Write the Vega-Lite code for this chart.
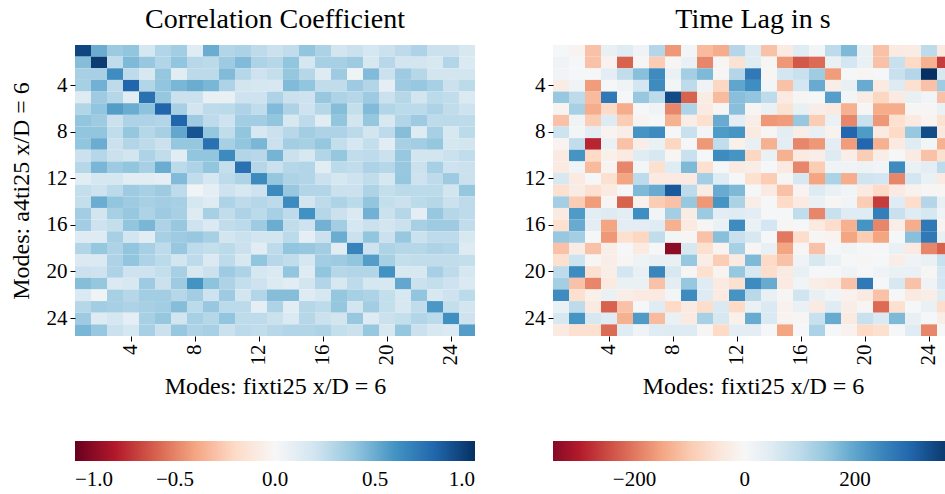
{
"$schema":"https://vega.github.io/schema/vega-lite/v6.json",
"background":"white",
"padding":{"left":9,"top":6,"right":0,"bottom":0},
"bounds":"flush",
"config":{
"font":"Liberation Serif",
"view":{"stroke":null},
"concat":{"spacing":78},
"axis":{"domain":false,"grid":false,"tickColor":"#000","tickSize":5,"tickWidth":1,"labelFont":"Liberation Serif","labelFontSize":21,"labelColor":"#000","labelPadding":3,"titleFont":"Liberation Serif","titleFontSize":24,"titleFontWeight":"normal","titleColor":"#000"},
"title":{"font":"Liberation Serif","fontSize":28,"fontWeight":"normal","color":"#000","offset":11},
"legend":{"labelFont":"Liberation Serif","labelFontSize":21,"labelColor":"#000"}
},
"datasets":{
"corr":[
{"r":1,"c":1,"v":0.92},{"r":1,"c":2,"v":0.5},{"r":1,"c":3,"v":0.37},{"r":1,"c":4,"v":0.4},{"r":1,"c":5,"v":0.18},{"r":1,"c":6,"v":0.3},{"r":1,"c":7,"v":0.35},{"r":1,"c":8,"v":0.12},{"r":1,"c":9,"v":0.5},{"r":1,"c":10,"v":0.3},{"r":1,"c":11,"v":0.32},{"r":1,"c":12,"v":0.26},{"r":1,"c":13,"v":0.22},{"r":1,"c":14,"v":0.25},{"r":1,"c":15,"v":0.4},{"r":1,"c":16,"v":0.32},{"r":1,"c":17,"v":0.19},{"r":1,"c":18,"v":0.22},{"r":1,"c":19,"v":0.18},{"r":1,"c":20,"v":0.22},{"r":1,"c":21,"v":0.26},{"r":1,"c":22,"v":0.31},{"r":1,"c":23,"v":0.22},{"r":1,"c":24,"v":0.22},{"r":1,"c":25,"v":0.17},
{"r":2,"c":1,"v":0.43},{"r":2,"c":2,"v":0.96},{"r":2,"c":3,"v":0.25},{"r":2,"c":4,"v":0.45},{"r":2,"c":5,"v":0.38},{"r":2,"c":6,"v":0.3},{"r":2,"c":7,"v":0.4},{"r":2,"c":8,"v":0.28},{"r":2,"c":9,"v":0.27},{"r":2,"c":10,"v":0.36},{"r":2,"c":11,"v":0.44},{"r":2,"c":12,"v":0.31},{"r":2,"c":13,"v":0.29},{"r":2,"c":14,"v":0.4},{"r":2,"c":15,"v":0.18},{"r":2,"c":16,"v":0.33},{"r":2,"c":17,"v":0.33},{"r":2,"c":18,"v":0.36},{"r":2,"c":19,"v":0.17},{"r":2,"c":20,"v":0.28},{"r":2,"c":21,"v":0.19},{"r":2,"c":22,"v":0.19},{"r":2,"c":23,"v":0.17},{"r":2,"c":24,"v":0.3},{"r":2,"c":25,"v":0.15},
{"r":3,"c":1,"v":0.33},{"r":3,"c":2,"v":0.33},{"r":3,"c":3,"v":0.63},{"r":3,"c":4,"v":0.26},{"r":3,"c":5,"v":0.17},{"r":3,"c":6,"v":0.39},{"r":3,"c":7,"v":0.11},{"r":3,"c":8,"v":0.27},{"r":3,"c":9,"v":0.27},{"r":3,"c":10,"v":0.44},{"r":3,"c":11,"v":0.29},{"r":3,"c":12,"v":0.21},{"r":3,"c":13,"v":0.24},{"r":3,"c":14,"v":0.39},{"r":3,"c":15,"v":0.29},{"r":3,"c":16,"v":0.13},{"r":3,"c":17,"v":0.36},{"r":3,"c":18,"v":0.05},{"r":3,"c":19,"v":0.44},{"r":3,"c":20,"v":0.22},{"r":3,"c":21,"v":0.36},{"r":3,"c":22,"v":0.29},{"r":3,"c":23,"v":0.19},{"r":3,"c":24,"v":0.19},{"r":3,"c":25,"v":0.19},
{"r":4,"c":1,"v":0.33},{"r":4,"c":2,"v":0.48},{"r":4,"c":3,"v":0.26},{"r":4,"c":4,"v":0.8},{"r":4,"c":5,"v":0.3},{"r":4,"c":6,"v":0.4},{"r":4,"c":7,"v":0.46},{"r":4,"c":8,"v":0.5},{"r":4,"c":9,"v":0.46},{"r":4,"c":10,"v":0.31},{"r":4,"c":11,"v":0.19},{"r":4,"c":12,"v":0.18},{"r":4,"c":13,"v":0.17},{"r":4,"c":14,"v":0.44},{"r":4,"c":15,"v":0.4},{"r":4,"c":16,"v":0.25},{"r":4,"c":17,"v":0.25},{"r":4,"c":18,"v":0.36},{"r":4,"c":19,"v":0.3},{"r":4,"c":20,"v":0.1},{"r":4,"c":21,"v":0.36},{"r":4,"c":22,"v":0.38},{"r":4,"c":23,"v":0.33},{"r":4,"c":24,"v":0.22},{"r":4,"c":25,"v":0.27},
{"r":5,"c":1,"v":0.13},{"r":5,"c":2,"v":0.36},{"r":5,"c":3,"v":0.29},{"r":5,"c":4,"v":0.11},{"r":5,"c":5,"v":0.75},{"r":5,"c":6,"v":0.39},{"r":5,"c":7,"v":0.22},{"r":5,"c":8,"v":0.22},{"r":5,"c":9,"v":0.08},{"r":5,"c":10,"v":0.08},{"r":5,"c":11,"v":0.21},{"r":5,"c":12,"v":0.21},{"r":5,"c":13,"v":0.31},{"r":5,"c":14,"v":0.22},{"r":5,"c":15,"v":0.21},{"r":5,"c":16,"v":0.38},{"r":5,"c":17,"v":0.31},{"r":5,"c":18,"v":0.29},{"r":5,"c":19,"v":0.36},{"r":5,"c":20,"v":0.22},{"r":5,"c":21,"v":0.29},{"r":5,"c":22,"v":0.19},{"r":5,"c":23,"v":0.27},{"r":5,"c":24,"v":0.25},{"r":5,"c":25,"v":0.15},
{"r":6,"c":1,"v":0.3},{"r":6,"c":2,"v":0.4},{"r":6,"c":3,"v":0.56},{"r":6,"c":4,"v":0.5},{"r":6,"c":5,"v":0.41},{"r":6,"c":6,"v":0.8},{"r":6,"c":7,"v":0.33},{"r":6,"c":8,"v":0.19},{"r":6,"c":9,"v":0.26},{"r":6,"c":10,"v":0.27},{"r":6,"c":11,"v":0.31},{"r":6,"c":12,"v":0.25},{"r":6,"c":13,"v":0.44},{"r":6,"c":14,"v":0.31},{"r":6,"c":15,"v":0.21},{"r":6,"c":16,"v":0.29},{"r":6,"c":17,"v":0.43},{"r":6,"c":18,"v":0.24},{"r":6,"c":19,"v":0.44},{"r":6,"c":20,"v":0.3},{"r":6,"c":21,"v":0.27},{"r":6,"c":22,"v":0.27},{"r":6,"c":23,"v":0.31},{"r":6,"c":24,"v":0.25},{"r":6,"c":25,"v":0.21},
{"r":7,"c":1,"v":0.4},{"r":7,"c":2,"v":0.36},{"r":7,"c":3,"v":0.22},{"r":7,"c":4,"v":0.31},{"r":7,"c":5,"v":0.31},{"r":7,"c":6,"v":0.3},{"r":7,"c":7,"v":0.8},{"r":7,"c":8,"v":0.36},{"r":7,"c":9,"v":0.26},{"r":7,"c":10,"v":0.21},{"r":7,"c":11,"v":0.35},{"r":7,"c":12,"v":0.35},{"r":7,"c":13,"v":0.4},{"r":7,"c":14,"v":0.17},{"r":7,"c":15,"v":0.26},{"r":7,"c":16,"v":0.11},{"r":7,"c":17,"v":0.4},{"r":7,"c":18,"v":0.19},{"r":7,"c":19,"v":0.39},{"r":7,"c":20,"v":0.17},{"r":7,"c":21,"v":0.3},{"r":7,"c":22,"v":0.36},{"r":7,"c":23,"v":0.26},{"r":7,"c":24,"v":0.27},{"r":7,"c":25,"v":0.26},
{"r":8,"c":1,"v":0.4},{"r":8,"c":2,"v":0.4},{"r":8,"c":3,"v":0.25},{"r":8,"c":4,"v":0.39},{"r":8,"c":5,"v":0.29},{"r":8,"c":6,"v":0.33},{"r":8,"c":7,"v":0.52},{"r":8,"c":8,"v":0.87},{"r":8,"c":9,"v":0.39},{"r":8,"c":10,"v":0.25},{"r":8,"c":11,"v":0.4},{"r":8,"c":12,"v":0.17},{"r":8,"c":13,"v":0.22},{"r":8,"c":14,"v":0.28},{"r":8,"c":15,"v":0.35},{"r":8,"c":16,"v":0.31},{"r":8,"c":17,"v":0.31},{"r":8,"c":18,"v":0.27},{"r":8,"c":19,"v":0.19},{"r":8,"c":20,"v":0.26},{"r":8,"c":21,"v":0.43},{"r":8,"c":22,"v":0.13},{"r":8,"c":23,"v":0.33},{"r":8,"c":24,"v":0.17},{"r":8,"c":25,"v":0.27},
{"r":9,"c":1,"v":0.4},{"r":9,"c":2,"v":0.5},{"r":9,"c":3,"v":0.22},{"r":9,"c":4,"v":0.3},{"r":9,"c":5,"v":0.26},{"r":9,"c":6,"v":0.22},{"r":9,"c":7,"v":0.39},{"r":9,"c":8,"v":0.39},{"r":9,"c":9,"v":0.75},{"r":9,"c":10,"v":0.33},{"r":9,"c":11,"v":0.4},{"r":9,"c":12,"v":0.46},{"r":9,"c":13,"v":0.22},{"r":9,"c":14,"v":0.35},{"r":9,"c":15,"v":0.33},{"r":9,"c":16,"v":0.39},{"r":9,"c":17,"v":0.24},{"r":9,"c":18,"v":0.18},{"r":9,"c":19,"v":0.24},{"r":9,"c":20,"v":0.11},{"r":9,"c":21,"v":0.33},{"r":9,"c":22,"v":0.35},{"r":9,"c":23,"v":0.39},{"r":9,"c":24,"v":0.18},{"r":9,"c":25,"v":0.19},
{"r":10,"c":1,"v":0.22},{"r":10,"c":2,"v":0.29},{"r":10,"c":3,"v":0.22},{"r":10,"c":4,"v":0.19},{"r":10,"c":5,"v":0.31},{"r":10,"c":6,"v":0.25},{"r":10,"c":7,"v":0.11},{"r":10,"c":8,"v":0.4},{"r":10,"c":9,"v":0.4},{"r":10,"c":10,"v":0.64},{"r":10,"c":11,"v":0.3},{"r":10,"c":12,"v":0.28},{"r":10,"c":13,"v":0.47},{"r":10,"c":14,"v":0.22},{"r":10,"c":15,"v":0.17},{"r":10,"c":16,"v":0.3},{"r":10,"c":17,"v":0.39},{"r":10,"c":18,"v":0.25},{"r":10,"c":19,"v":0.26},{"r":10,"c":20,"v":0.22},{"r":10,"c":21,"v":0.38},{"r":10,"c":22,"v":0.19},{"r":10,"c":23,"v":0.19},{"r":10,"c":24,"v":0.22},{"r":10,"c":25,"v":0.25},
{"r":11,"c":1,"v":0.29},{"r":11,"c":2,"v":0.46},{"r":11,"c":3,"v":0.36},{"r":11,"c":4,"v":0.4},{"r":11,"c":5,"v":0.33},{"r":11,"c":6,"v":0.5},{"r":11,"c":7,"v":0.27},{"r":11,"c":8,"v":0.31},{"r":11,"c":9,"v":0.4},{"r":11,"c":10,"v":0.24},{"r":11,"c":11,"v":0.75},{"r":11,"c":12,"v":0.29},{"r":11,"c":13,"v":0.22},{"r":11,"c":14,"v":0.29},{"r":11,"c":15,"v":0.3},{"r":11,"c":16,"v":0.11},{"r":11,"c":17,"v":0.27},{"r":11,"c":18,"v":0.25},{"r":11,"c":19,"v":0.31},{"r":11,"c":20,"v":0.29},{"r":11,"c":21,"v":0.38},{"r":11,"c":22,"v":0.22},{"r":11,"c":23,"v":0.33},{"r":11,"c":24,"v":0.21},{"r":11,"c":25,"v":0.22},
{"r":12,"c":1,"v":0.11},{"r":12,"c":2,"v":0.18},{"r":12,"c":3,"v":0.18},{"r":12,"c":4,"v":0.11},{"r":12,"c":5,"v":0.11},{"r":12,"c":6,"v":0.1},{"r":12,"c":7,"v":0.44},{"r":12,"c":8,"v":0.25},{"r":12,"c":9,"v":0.18},{"r":12,"c":10,"v":0.26},{"r":12,"c":11,"v":0.31},{"r":12,"c":12,"v":0.64},{"r":12,"c":13,"v":0.39},{"r":12,"c":14,"v":0.31},{"r":12,"c":15,"v":0.3},{"r":12,"c":16,"v":0.22},{"r":12,"c":17,"v":0.18},{"r":12,"c":18,"v":0.21},{"r":12,"c":19,"v":0.25},{"r":12,"c":20,"v":0.18},{"r":12,"c":21,"v":0.39},{"r":12,"c":22,"v":0.21},{"r":12,"c":23,"v":0.26},{"r":12,"c":24,"v":0.36},{"r":12,"c":25,"v":0.22},
{"r":13,"c":1,"v":0.24},{"r":13,"c":2,"v":0.21},{"r":13,"c":3,"v":0.27},{"r":13,"c":4,"v":0.36},{"r":13,"c":5,"v":0.33},{"r":13,"c":6,"v":0.36},{"r":13,"c":7,"v":0.26},{"r":13,"c":8,"v":0.03},{"r":13,"c":9,"v":0.1},{"r":13,"c":10,"v":0.21},{"r":13,"c":11,"v":0.17},{"r":13,"c":12,"v":0.21},{"r":13,"c":13,"v":0.64},{"r":13,"c":14,"v":0.38},{"r":13,"c":15,"v":0.3},{"r":13,"c":16,"v":0.3},{"r":13,"c":17,"v":0.22},{"r":13,"c":18,"v":0.22},{"r":13,"c":19,"v":0.31},{"r":13,"c":20,"v":0.24},{"r":13,"c":21,"v":0.27},{"r":13,"c":22,"v":0.27},{"r":13,"c":23,"v":0.27},{"r":13,"c":24,"v":0.19},{"r":13,"c":25,"v":0.39},
{"r":14,"c":1,"v":0.24},{"r":14,"c":2,"v":0.5},{"r":14,"c":3,"v":0.4},{"r":14,"c":4,"v":0.36},{"r":14,"c":5,"v":0.33},{"r":14,"c":6,"v":0.35},{"r":14,"c":7,"v":0.33},{"r":14,"c":8,"v":0.18},{"r":14,"c":9,"v":0.13},{"r":14,"c":10,"v":0.31},{"r":14,"c":11,"v":0.26},{"r":14,"c":12,"v":0.29},{"r":14,"c":13,"v":0.26},{"r":14,"c":14,"v":0.64},{"r":14,"c":15,"v":0.19},{"r":14,"c":16,"v":0.26},{"r":14,"c":17,"v":0.31},{"r":14,"c":18,"v":0.27},{"r":14,"c":19,"v":0.4},{"r":14,"c":20,"v":0.24},{"r":14,"c":21,"v":0.22},{"r":14,"c":22,"v":0.27},{"r":14,"c":23,"v":0.29},{"r":14,"c":24,"v":0.22},{"r":14,"c":25,"v":0.26},
{"r":15,"c":1,"v":0.35},{"r":15,"c":2,"v":0.19},{"r":15,"c":3,"v":0.33},{"r":15,"c":4,"v":0.38},{"r":15,"c":5,"v":0.31},{"r":15,"c":6,"v":0.36},{"r":15,"c":7,"v":0.33},{"r":15,"c":8,"v":0.13},{"r":15,"c":9,"v":0.33},{"r":15,"c":10,"v":0.25},{"r":15,"c":11,"v":0.31},{"r":15,"c":12,"v":0.27},{"r":15,"c":13,"v":0.33},{"r":15,"c":14,"v":0.26},{"r":15,"c":15,"v":0.61},{"r":15,"c":16,"v":0.29},{"r":15,"c":17,"v":0.22},{"r":15,"c":18,"v":0.15},{"r":15,"c":19,"v":0.48},{"r":15,"c":20,"v":0.22},{"r":15,"c":21,"v":0.29},{"r":15,"c":22,"v":0.1},{"r":15,"c":23,"v":0.38},{"r":15,"c":24,"v":0.29},{"r":15,"c":25,"v":0.26},
{"r":16,"c":1,"v":0.35},{"r":16,"c":2,"v":0.21},{"r":16,"c":3,"v":0.24},{"r":16,"c":4,"v":0.4},{"r":16,"c":5,"v":0.46},{"r":16,"c":6,"v":0.31},{"r":16,"c":7,"v":0.38},{"r":16,"c":8,"v":0.21},{"r":16,"c":9,"v":0.15},{"r":16,"c":10,"v":0.25},{"r":16,"c":11,"v":0.27},{"r":16,"c":12,"v":0.36},{"r":16,"c":13,"v":0.5},{"r":16,"c":14,"v":0.25},{"r":16,"c":15,"v":0.21},{"r":16,"c":16,"v":0.48},{"r":16,"c":17,"v":0.35},{"r":16,"c":18,"v":0.18},{"r":16,"c":19,"v":0.22},{"r":16,"c":20,"v":0.19},{"r":16,"c":21,"v":0.22},{"r":16,"c":22,"v":0.33},{"r":16,"c":23,"v":0.36},{"r":16,"c":24,"v":0.36},{"r":16,"c":25,"v":0.25},
{"r":17,"c":1,"v":0.13},{"r":17,"c":2,"v":0.13},{"r":17,"c":3,"v":0.33},{"r":17,"c":4,"v":0.19},{"r":17,"c":5,"v":0.11},{"r":17,"c":6,"v":0.33},{"r":17,"c":7,"v":0.36},{"r":17,"c":8,"v":0.38},{"r":17,"c":9,"v":0.33},{"r":17,"c":10,"v":0.19},{"r":17,"c":11,"v":0.22},{"r":17,"c":12,"v":0.19},{"r":17,"c":13,"v":0.19},{"r":17,"c":14,"v":0.27},{"r":17,"c":15,"v":0.1},{"r":17,"c":16,"v":0.22},{"r":17,"c":17,"v":0.5},{"r":17,"c":18,"v":0.22},{"r":17,"c":19,"v":0.4},{"r":17,"c":20,"v":0.22},{"r":17,"c":21,"v":0.38},{"r":17,"c":22,"v":0.22},{"r":17,"c":23,"v":0.26},{"r":17,"c":24,"v":0.26},{"r":17,"c":25,"v":0.17},
{"r":18,"c":1,"v":0.3},{"r":18,"c":2,"v":0.39},{"r":18,"c":3,"v":0.31},{"r":18,"c":4,"v":0.4},{"r":18,"c":5,"v":0.33},{"r":18,"c":6,"v":0.26},{"r":18,"c":7,"v":0.38},{"r":18,"c":8,"v":0.26},{"r":18,"c":9,"v":0.24},{"r":18,"c":10,"v":0.27},{"r":18,"c":11,"v":0.22},{"r":18,"c":12,"v":0.11},{"r":18,"c":13,"v":0.26},{"r":18,"c":14,"v":0.4},{"r":18,"c":15,"v":0.38},{"r":18,"c":16,"v":0.35},{"r":18,"c":17,"v":0.11},{"r":18,"c":18,"v":0.67},{"r":18,"c":19,"v":0.21},{"r":18,"c":20,"v":0.31},{"r":18,"c":21,"v":0.29},{"r":18,"c":22,"v":0.29},{"r":18,"c":23,"v":0.31},{"r":18,"c":24,"v":0.3},{"r":18,"c":25,"v":0.13},
{"r":19,"c":1,"v":0.15},{"r":19,"c":2,"v":0.15},{"r":19,"c":3,"v":0.31},{"r":19,"c":4,"v":0.4},{"r":19,"c":5,"v":0.31},{"r":19,"c":6,"v":0.27},{"r":19,"c":7,"v":0.19},{"r":19,"c":8,"v":0.26},{"r":19,"c":9,"v":0.15},{"r":19,"c":10,"v":0.26},{"r":19,"c":11,"v":0.17},{"r":19,"c":12,"v":0.4},{"r":19,"c":13,"v":0.28},{"r":19,"c":14,"v":0.25},{"r":19,"c":15,"v":0.18},{"r":19,"c":16,"v":0.35},{"r":19,"c":17,"v":0.36},{"r":19,"c":18,"v":0.4},{"r":19,"c":19,"v":0.56},{"r":19,"c":20,"v":0.33},{"r":19,"c":21,"v":0.24},{"r":19,"c":22,"v":0.25},{"r":19,"c":23,"v":0.25},{"r":19,"c":24,"v":0.25},{"r":19,"c":25,"v":0.24},
{"r":20,"c":1,"v":0.22},{"r":20,"c":2,"v":0.21},{"r":20,"c":3,"v":0.31},{"r":20,"c":4,"v":0.21},{"r":20,"c":5,"v":0.21},{"r":20,"c":6,"v":0.24},{"r":20,"c":7,"v":0.33},{"r":20,"c":8,"v":0.17},{"r":20,"c":9,"v":0.22},{"r":20,"c":10,"v":0.36},{"r":20,"c":11,"v":0.31},{"r":20,"c":12,"v":0.18},{"r":20,"c":13,"v":0.15},{"r":20,"c":14,"v":0.4},{"r":20,"c":15,"v":0.13},{"r":20,"c":16,"v":0.4},{"r":20,"c":17,"v":0.29},{"r":20,"c":18,"v":0.3},{"r":20,"c":19,"v":0.3},{"r":20,"c":20,"v":0.61},{"r":20,"c":21,"v":0.17},{"r":20,"c":22,"v":0.17},{"r":20,"c":23,"v":0.33},{"r":20,"c":24,"v":0.26},{"r":20,"c":25,"v":0.18},
{"r":21,"c":1,"v":0.43},{"r":21,"c":2,"v":0.39},{"r":21,"c":3,"v":0.15},{"r":21,"c":4,"v":0.17},{"r":21,"c":5,"v":0.36},{"r":21,"c":6,"v":0.22},{"r":21,"c":7,"v":0.36},{"r":21,"c":8,"v":0.6},{"r":21,"c":9,"v":0.41},{"r":21,"c":10,"v":0.31},{"r":21,"c":11,"v":0.24},{"r":21,"c":12,"v":0.21},{"r":21,"c":13,"v":0.14},{"r":21,"c":14,"v":0.11},{"r":21,"c":15,"v":0.19},{"r":21,"c":16,"v":0.3},{"r":21,"c":17,"v":0.17},{"r":21,"c":18,"v":0.26},{"r":21,"c":19,"v":0.18},{"r":21,"c":20,"v":0.17},{"r":21,"c":21,"v":0.52},{"r":21,"c":22,"v":0.22},{"r":21,"c":23,"v":0.24},{"r":21,"c":24,"v":0.21},{"r":21,"c":25,"v":0.15},
{"r":22,"c":1,"v":0.15},{"r":22,"c":2,"v":0.05},{"r":22,"c":3,"v":0.33},{"r":22,"c":4,"v":0.29},{"r":22,"c":5,"v":0.35},{"r":22,"c":6,"v":0.35},{"r":22,"c":7,"v":0.29},{"r":22,"c":8,"v":0.35},{"r":22,"c":9,"v":0.21},{"r":22,"c":10,"v":0.36},{"r":22,"c":11,"v":0.19},{"r":22,"c":12,"v":0.3},{"r":22,"c":13,"v":0.43},{"r":22,"c":14,"v":0.43},{"r":22,"c":15,"v":0.13},{"r":22,"c":16,"v":0.18},{"r":22,"c":17,"v":0.39},{"r":22,"c":18,"v":0.33},{"r":22,"c":19,"v":0.31},{"r":22,"c":20,"v":0.24},{"r":22,"c":21,"v":0.17},{"r":22,"c":22,"v":0.4},{"r":22,"c":23,"v":0.17},{"r":22,"c":24,"v":0.21},{"r":22,"c":25,"v":0.27},
{"r":23,"c":1,"v":0.29},{"r":23,"c":2,"v":0.35},{"r":23,"c":3,"v":0.33},{"r":23,"c":4,"v":0.31},{"r":23,"c":5,"v":0.33},{"r":23,"c":6,"v":0.35},{"r":23,"c":7,"v":0.43},{"r":23,"c":8,"v":0.27},{"r":23,"c":9,"v":0.38},{"r":23,"c":10,"v":0.27},{"r":23,"c":11,"v":0.27},{"r":23,"c":12,"v":0.1},{"r":23,"c":13,"v":0.31},{"r":23,"c":14,"v":0.11},{"r":23,"c":15,"v":0.29},{"r":23,"c":16,"v":0.26},{"r":23,"c":17,"v":0.39},{"r":23,"c":18,"v":0.19},{"r":23,"c":19,"v":0.35},{"r":23,"c":20,"v":0.24},{"r":23,"c":21,"v":0.17},{"r":23,"c":22,"v":0.25},{"r":23,"c":23,"v":0.58},{"r":23,"c":24,"v":0.24},{"r":23,"c":25,"v":0.19},
{"r":24,"c":1,"v":0.36},{"r":24,"c":2,"v":0.13},{"r":24,"c":3,"v":0.18},{"r":24,"c":4,"v":0.1},{"r":24,"c":5,"v":0.33},{"r":24,"c":6,"v":0.39},{"r":24,"c":7,"v":0.19},{"r":24,"c":8,"v":0.33},{"r":24,"c":9,"v":0.29},{"r":24,"c":10,"v":0.4},{"r":24,"c":11,"v":0.26},{"r":24,"c":12,"v":0.26},{"r":24,"c":13,"v":0.22},{"r":24,"c":14,"v":0.15},{"r":24,"c":15,"v":0.29},{"r":24,"c":16,"v":0.22},{"r":24,"c":17,"v":0.19},{"r":24,"c":18,"v":0.38},{"r":24,"c":19,"v":0.13},{"r":24,"c":20,"v":0.22},{"r":24,"c":21,"v":0.24},{"r":24,"c":22,"v":0.3},{"r":24,"c":23,"v":0.27},{"r":24,"c":24,"v":0.62},{"r":24,"c":25,"v":0.21},
{"r":25,"c":1,"v":0.46},{"r":25,"c":2,"v":0.38},{"r":25,"c":3,"v":0.22},{"r":25,"c":4,"v":0.18},{"r":25,"c":5,"v":0.33},{"r":25,"c":6,"v":0.22},{"r":25,"c":7,"v":0.38},{"r":25,"c":8,"v":0.31},{"r":25,"c":9,"v":0.33},{"r":25,"c":10,"v":0.22},{"r":25,"c":11,"v":0.27},{"r":25,"c":12,"v":0.25},{"r":25,"c":13,"v":0.28},{"r":25,"c":14,"v":0.3},{"r":25,"c":15,"v":0.3},{"r":25,"c":16,"v":0.31},{"r":25,"c":17,"v":0.24},{"r":25,"c":18,"v":0.22},{"r":25,"c":19,"v":0.38},{"r":25,"c":20,"v":0.17},{"r":25,"c":21,"v":0.39},{"r":25,"c":22,"v":0.22},{"r":25,"c":23,"v":0.17},{"r":25,"c":24,"v":0.15},{"r":25,"c":25,"v":0.56}
],
"lag":[
{"r":1,"c":1,"v":5},{"r":1,"c":2,"v":-10},{"r":1,"c":3,"v":-110},{"r":1,"c":4,"v":30},{"r":1,"c":5,"v":45},{"r":1,"c":6,"v":15},{"r":1,"c":7,"v":110},{"r":1,"c":8,"v":-165},{"r":1,"c":9,"v":10},{"r":1,"c":10,"v":-120},{"r":1,"c":11,"v":-140},{"r":1,"c":12,"v":110},{"r":1,"c":13,"v":50},{"r":1,"c":14,"v":-110},{"r":1,"c":15,"v":-35},{"r":1,"c":16,"v":48},{"r":1,"c":17,"v":10},{"r":1,"c":18,"v":100},{"r":1,"c":19,"v":170},{"r":1,"c":20,"v":25},{"r":1,"c":21,"v":-110},{"r":1,"c":22,"v":-35},{"r":1,"c":23,"v":-30},{"r":1,"c":24,"v":100},{"r":1,"c":25,"v":-35},
{"r":2,"c":1,"v":15},{"r":2,"c":2,"v":5},{"r":2,"c":3,"v":-110},{"r":2,"c":4,"v":-15},{"r":2,"c":5,"v":-225},{"r":2,"c":6,"v":-5},{"r":2,"c":7,"v":-95},{"r":2,"c":8,"v":-5},{"r":2,"c":9,"v":25},{"r":2,"c":10,"v":-185},{"r":2,"c":11,"v":-5},{"r":2,"c":12,"v":-55},{"r":2,"c":13,"v":48},{"r":2,"c":14,"v":-5},{"r":2,"c":15,"v":-165},{"r":2,"c":16,"v":-235},{"r":2,"c":17,"v":-215},{"r":2,"c":18,"v":25},{"r":2,"c":19,"v":70},{"r":2,"c":20,"v":25},{"r":2,"c":21,"v":-110},{"r":2,"c":22,"v":85},{"r":2,"c":23,"v":-75},{"r":2,"c":24,"v":-135},{"r":2,"c":25,"v":-265},
{"r":3,"c":1,"v":12},{"r":3,"c":2,"v":5},{"r":3,"c":3,"v":5},{"r":3,"c":4,"v":40},{"r":3,"c":5,"v":95},{"r":3,"c":6,"v":160},{"r":3,"c":7,"v":240},{"r":3,"c":8,"v":25},{"r":3,"c":9,"v":130},{"r":3,"c":10,"v":170},{"r":3,"c":11,"v":-5},{"r":3,"c":12,"v":110},{"r":3,"c":13,"v":270},{"r":3,"c":14,"v":-5},{"r":3,"c":15,"v":70},{"r":3,"c":16,"v":85},{"r":3,"c":17,"v":135},{"r":3,"c":18,"v":-160},{"r":3,"c":19,"v":5},{"r":3,"c":20,"v":-5},{"r":3,"c":21,"v":5},{"r":3,"c":22,"v":85},{"r":3,"c":23,"v":110},{"r":3,"c":24,"v":378},{"r":3,"c":25,"v":62},
{"r":4,"c":1,"v":-30},{"r":4,"c":2,"v":15},{"r":4,"c":3,"v":-160},{"r":4,"c":4,"v":5},{"r":4,"c":5,"v":15},{"r":4,"c":6,"v":70},{"r":4,"c":7,"v":240},{"r":4,"c":8,"v":10},{"r":4,"c":9,"v":100},{"r":4,"c":10,"v":15},{"r":4,"c":11,"v":-80},{"r":4,"c":12,"v":200},{"r":4,"c":13,"v":235},{"r":4,"c":14,"v":10},{"r":4,"c":15,"v":-110},{"r":4,"c":16,"v":70},{"r":4,"c":17,"v":190},{"r":4,"c":18,"v":-25},{"r":4,"c":19,"v":30},{"r":4,"c":20,"v":190},{"r":4,"c":21,"v":-35},{"r":4,"c":22,"v":50},{"r":4,"c":23,"v":-60},{"r":4,"c":24,"v":-110},{"r":4,"c":25,"v":135},
{"r":5,"c":1,"v":145},{"r":5,"c":2,"v":100},{"r":5,"c":3,"v":-120},{"r":5,"c":4,"v":270},{"r":5,"c":5,"v":5},{"r":5,"c":6,"v":145},{"r":5,"c":7,"v":100},{"r":5,"c":8,"v":340},{"r":5,"c":9,"v":-225},{"r":5,"c":10,"v":-30},{"r":5,"c":11,"v":-120},{"r":5,"c":12,"v":160},{"r":5,"c":13,"v":150},{"r":5,"c":14,"v":100},{"r":5,"c":15,"v":-35},{"r":5,"c":16,"v":-5},{"r":5,"c":17,"v":5},{"r":5,"c":18,"v":210},{"r":5,"c":19,"v":10},{"r":5,"c":20,"v":-30},{"r":5,"c":21,"v":-80},{"r":5,"c":22,"v":-35},{"r":5,"c":23,"v":30},{"r":5,"c":24,"v":12},{"r":5,"c":25,"v":-110},
{"r":6,"c":1,"v":-10},{"r":6,"c":2,"v":125},{"r":6,"c":3,"v":-140},{"r":6,"c":4,"v":-75},{"r":6,"c":5,"v":-140},{"r":6,"c":6,"v":5},{"r":6,"c":7,"v":15},{"r":6,"c":8,"v":-185},{"r":6,"c":9,"v":115},{"r":6,"c":10,"v":-35},{"r":6,"c":11,"v":-5},{"r":6,"c":12,"v":160},{"r":6,"c":13,"v":-5},{"r":6,"c":14,"v":25},{"r":6,"c":15,"v":-55},{"r":6,"c":16,"v":30},{"r":6,"c":17,"v":-25},{"r":6,"c":18,"v":-35},{"r":6,"c":19,"v":-135},{"r":6,"c":20,"v":-5},{"r":6,"c":21,"v":-140},{"r":6,"c":22,"v":-140},{"r":6,"c":23,"v":-5},{"r":6,"c":24,"v":-5},{"r":6,"c":25,"v":25},
{"r":7,"c":1,"v":-110},{"r":7,"c":2,"v":15},{"r":7,"c":3,"v":-95},{"r":7,"c":4,"v":50},{"r":7,"c":5,"v":-95},{"r":7,"c":6,"v":-10},{"r":7,"c":7,"v":5},{"r":7,"c":8,"v":-135},{"r":7,"c":9,"v":-25},{"r":7,"c":10,"v":-60},{"r":7,"c":11,"v":190},{"r":7,"c":12,"v":40},{"r":7,"c":13,"v":-25},{"r":7,"c":14,"v":-165},{"r":7,"c":15,"v":-160},{"r":7,"c":16,"v":145},{"r":7,"c":17,"v":-95},{"r":7,"c":18,"v":25},{"r":7,"c":19,"v":-185},{"r":7,"c":20,"v":85},{"r":7,"c":21,"v":-165},{"r":7,"c":22,"v":-60},{"r":7,"c":23,"v":-35},{"r":7,"c":24,"v":-10},{"r":7,"c":25,"v":-55},
{"r":8,"c":1,"v":80},{"r":8,"c":2,"v":10},{"r":8,"c":3,"v":40},{"r":8,"c":4,"v":-10},{"r":8,"c":5,"v":-25},{"r":8,"c":6,"v":225},{"r":8,"c":7,"v":240},{"r":8,"c":8,"v":5},{"r":8,"c":9,"v":85},{"r":8,"c":10,"v":10},{"r":8,"c":11,"v":215},{"r":8,"c":12,"v":225},{"r":8,"c":13,"v":-35},{"r":8,"c":14,"v":-5},{"r":8,"c":15,"v":40},{"r":8,"c":16,"v":-25},{"r":8,"c":17,"v":30},{"r":8,"c":18,"v":-15},{"r":8,"c":19,"v":300},{"r":8,"c":20,"v":215},{"r":8,"c":21,"v":-35},{"r":8,"c":22,"v":-75},{"r":8,"c":23,"v":145},{"r":8,"c":24,"v":340},{"r":8,"c":25,"v":-40},
{"r":9,"c":1,"v":-10},{"r":9,"c":2,"v":95},{"r":9,"c":3,"v":-290},{"r":9,"c":4,"v":25},{"r":9,"c":5,"v":-110},{"r":9,"c":6,"v":-25},{"r":9,"c":7,"v":25},{"r":9,"c":8,"v":-80},{"r":9,"c":9,"v":5},{"r":9,"c":10,"v":-165},{"r":9,"c":11,"v":95},{"r":9,"c":12,"v":-20},{"r":9,"c":13,"v":30},{"r":9,"c":14,"v":-135},{"r":9,"c":15,"v":40},{"r":9,"c":16,"v":-185},{"r":9,"c":17,"v":-165},{"r":9,"c":18,"v":40},{"r":9,"c":19,"v":-160},{"r":9,"c":20,"v":300},{"r":9,"c":21,"v":-135},{"r":9,"c":22,"v":-35},{"r":9,"c":23,"v":45},{"r":9,"c":24,"v":10},{"r":9,"c":25,"v":-135},
{"r":10,"c":1,"v":-35},{"r":10,"c":2,"v":225},{"r":10,"c":3,"v":-75},{"r":10,"c":4,"v":-20},{"r":10,"c":5,"v":-35},{"r":10,"c":6,"v":45},{"r":10,"c":7,"v":62},{"r":10,"c":8,"v":-5},{"r":10,"c":9,"v":85},{"r":10,"c":10,"v":5},{"r":10,"c":11,"v":240},{"r":10,"c":12,"v":225},{"r":10,"c":13,"v":-80},{"r":10,"c":14,"v":25},{"r":10,"c":15,"v":-135},{"r":10,"c":16,"v":-35},{"r":10,"c":17,"v":-25},{"r":10,"c":18,"v":50},{"r":10,"c":19,"v":-25},{"r":10,"c":20,"v":-95},{"r":10,"c":21,"v":-25},{"r":10,"c":22,"v":5},{"r":10,"c":23,"v":-35},{"r":10,"c":24,"v":-110},{"r":10,"c":25,"v":-60},
{"r":11,"c":1,"v":-35},{"r":11,"c":2,"v":12},{"r":11,"c":3,"v":-120},{"r":11,"c":4,"v":-10},{"r":11,"c":5,"v":-185},{"r":11,"c":6,"v":10},{"r":11,"c":7,"v":-60},{"r":11,"c":8,"v":48},{"r":11,"c":9,"v":170},{"r":11,"c":10,"v":-60},{"r":11,"c":11,"v":5},{"r":11,"c":12,"v":-35},{"r":11,"c":13,"v":-25},{"r":11,"c":14,"v":5},{"r":11,"c":15,"v":-35},{"r":11,"c":16,"v":-185},{"r":11,"c":17,"v":-95},{"r":11,"c":18,"v":15},{"r":11,"c":19,"v":15},{"r":11,"c":20,"v":20},{"r":11,"c":21,"v":12},{"r":11,"c":22,"v":240},{"r":11,"c":23,"v":25},{"r":11,"c":24,"v":40},{"r":11,"c":25,"v":100},
{"r":12,"c":1,"v":62},{"r":12,"c":2,"v":-35},{"r":12,"c":3,"v":5},{"r":12,"c":4,"v":-60},{"r":12,"c":5,"v":-150},{"r":12,"c":6,"v":100},{"r":12,"c":7,"v":-35},{"r":12,"c":8,"v":-35},{"r":12,"c":9,"v":-35},{"r":12,"c":10,"v":130},{"r":12,"c":11,"v":48},{"r":12,"c":12,"v":5},{"r":12,"c":13,"v":-60},{"r":12,"c":14,"v":-95},{"r":12,"c":15,"v":-5},{"r":12,"c":16,"v":62},{"r":12,"c":17,"v":-150},{"r":12,"c":18,"v":120},{"r":12,"c":19,"v":-140},{"r":12,"c":20,"v":75},{"r":12,"c":21,"v":70},{"r":12,"c":22,"v":-185},{"r":12,"c":23,"v":70},{"r":12,"c":24,"v":25},{"r":12,"c":25,"v":-35},
{"r":13,"c":1,"v":-60},{"r":13,"c":2,"v":-30},{"r":13,"c":3,"v":-60},{"r":13,"c":4,"v":-35},{"r":13,"c":5,"v":5},{"r":13,"c":6,"v":170},{"r":13,"c":7,"v":190},{"r":13,"c":8,"v":320},{"r":13,"c":9,"v":100},{"r":13,"c":10,"v":-30},{"r":13,"c":11,"v":190},{"r":13,"c":12,"v":170},{"r":13,"c":13,"v":5},{"r":13,"c":14,"v":-35},{"r":13,"c":15,"v":-110},{"r":13,"c":16,"v":-10},{"r":13,"c":17,"v":50},{"r":13,"c":18,"v":25},{"r":13,"c":19,"v":12},{"r":13,"c":20,"v":-35},{"r":13,"c":21,"v":-75},{"r":13,"c":22,"v":-35},{"r":13,"c":23,"v":-15},{"r":13,"c":24,"v":-5},{"r":13,"c":25,"v":-5},
{"r":14,"c":1,"v":130},{"r":14,"c":2,"v":-95},{"r":14,"c":3,"v":-160},{"r":14,"c":4,"v":-5},{"r":14,"c":5,"v":-225},{"r":14,"c":6,"v":-15},{"r":14,"c":7,"v":-95},{"r":14,"c":8,"v":-110},{"r":14,"c":9,"v":145},{"r":14,"c":10,"v":-165},{"r":14,"c":11,"v":225},{"r":14,"c":12,"v":120},{"r":14,"c":13,"v":-25},{"r":14,"c":14,"v":5},{"r":14,"c":15,"v":-75},{"r":14,"c":16,"v":-35},{"r":14,"c":17,"v":25},{"r":14,"c":18,"v":-5},{"r":14,"c":19,"v":12},{"r":14,"c":20,"v":-95},{"r":14,"c":21,"v":-265},{"r":14,"c":22,"v":48},{"r":14,"c":23,"v":-70},{"r":14,"c":24,"v":110},{"r":14,"c":25,"v":30},
{"r":15,"c":1,"v":-35},{"r":15,"c":2,"v":215},{"r":15,"c":3,"v":40},{"r":15,"c":4,"v":50},{"r":15,"c":5,"v":40},{"r":15,"c":6,"v":235},{"r":15,"c":7,"v":12},{"r":15,"c":8,"v":130},{"r":15,"c":9,"v":-30},{"r":15,"c":10,"v":140},{"r":15,"c":11,"v":40},{"r":15,"c":12,"v":48},{"r":15,"c":13,"v":40},{"r":15,"c":14,"v":5},{"r":15,"c":15,"v":5},{"r":15,"c":16,"v":95},{"r":15,"c":17,"v":-185},{"r":15,"c":18,"v":85},{"r":15,"c":19,"v":48},{"r":15,"c":20,"v":48},{"r":15,"c":21,"v":260},{"r":15,"c":22,"v":85},{"r":15,"c":23,"v":48},{"r":15,"c":24,"v":62},{"r":15,"c":25,"v":15},
{"r":16,"c":1,"v":-60},{"r":16,"c":2,"v":190},{"r":16,"c":3,"v":40},{"r":16,"c":4,"v":-150},{"r":16,"c":5,"v":40},{"r":16,"c":6,"v":40},{"r":16,"c":7,"v":48},{"r":16,"c":8,"v":-135},{"r":16,"c":9,"v":-35},{"r":16,"c":10,"v":-5},{"r":16,"c":11,"v":25},{"r":16,"c":12,"v":240},{"r":16,"c":13,"v":25},{"r":16,"c":14,"v":70},{"r":16,"c":15,"v":-5},{"r":16,"c":16,"v":5},{"r":16,"c":17,"v":-35},{"r":16,"c":18,"v":-70},{"r":16,"c":19,"v":-135},{"r":16,"c":20,"v":225},{"r":16,"c":21,"v":-185},{"r":16,"c":22,"v":-25},{"r":16,"c":23,"v":-140},{"r":16,"c":24,"v":270},{"r":16,"c":25,"v":-10},
{"r":17,"c":1,"v":145},{"r":17,"c":2,"v":130},{"r":17,"c":3,"v":5},{"r":17,"c":4,"v":-165},{"r":17,"c":5,"v":-60},{"r":17,"c":6,"v":-80},{"r":17,"c":7,"v":95},{"r":17,"c":8,"v":10},{"r":17,"c":9,"v":-5},{"r":17,"c":10,"v":-110},{"r":17,"c":11,"v":160},{"r":17,"c":12,"v":85},{"r":17,"c":13,"v":62},{"r":17,"c":14,"v":5},{"r":17,"c":15,"v":-200},{"r":17,"c":16,"v":-70},{"r":17,"c":17,"v":-5},{"r":17,"c":18,"v":-10},{"r":17,"c":19,"v":-150},{"r":17,"c":20,"v":-95},{"r":17,"c":21,"v":-150},{"r":17,"c":22,"v":5},{"r":17,"c":23,"v":160},{"r":17,"c":24,"v":270},{"r":17,"c":25,"v":30},
{"r":18,"c":1,"v":-110},{"r":18,"c":2,"v":-30},{"r":18,"c":3,"v":-110},{"r":18,"c":4,"v":-25},{"r":18,"c":5,"v":5},{"r":18,"c":6,"v":-35},{"r":18,"c":7,"v":5},{"r":18,"c":8,"v":-340},{"r":18,"c":9,"v":62},{"r":18,"c":10,"v":-60},{"r":18,"c":11,"v":-10},{"r":18,"c":12,"v":125},{"r":18,"c":13,"v":-5},{"r":18,"c":14,"v":30},{"r":18,"c":15,"v":-150},{"r":18,"c":16,"v":-5},{"r":18,"c":17,"v":-110},{"r":18,"c":18,"v":5},{"r":18,"c":19,"v":12},{"r":18,"c":20,"v":5},{"r":18,"c":21,"v":5},{"r":18,"c":22,"v":25},{"r":18,"c":23,"v":-35},{"r":18,"c":24,"v":-185},{"r":18,"c":25,"v":-225},
{"r":19,"c":1,"v":-60},{"r":19,"c":2,"v":80},{"r":19,"c":3,"v":-5},{"r":19,"c":4,"v":-25},{"r":19,"c":5,"v":-5},{"r":19,"c":6,"v":20},{"r":19,"c":7,"v":30},{"r":19,"c":8,"v":30},{"r":19,"c":9,"v":145},{"r":19,"c":10,"v":-25},{"r":19,"c":11,"v":-95},{"r":19,"c":12,"v":-35},{"r":19,"c":13,"v":170},{"r":19,"c":14,"v":-75},{"r":19,"c":15,"v":-110},{"r":19,"c":16,"v":15},{"r":19,"c":17,"v":62},{"r":19,"c":18,"v":25},{"r":19,"c":19,"v":5},{"r":19,"c":20,"v":-5},{"r":19,"c":21,"v":5},{"r":19,"c":22,"v":-25},{"r":19,"c":23,"v":15},{"r":19,"c":24,"v":25},{"r":19,"c":25,"v":85},
{"r":20,"c":1,"v":100},{"r":20,"c":2,"v":240},{"r":20,"c":3,"v":-60},{"r":20,"c":4,"v":-25},{"r":20,"c":5,"v":70},{"r":20,"c":6,"v":30},{"r":20,"c":7,"v":250},{"r":20,"c":8,"v":62},{"r":20,"c":9,"v":-5},{"r":20,"c":10,"v":-60},{"r":20,"c":11,"v":-10},{"r":20,"c":12,"v":145},{"r":20,"c":13,"v":62},{"r":20,"c":14,"v":-70},{"r":20,"c":15,"v":-35},{"r":20,"c":16,"v":30},{"r":20,"c":17,"v":5},{"r":20,"c":18,"v":5},{"r":20,"c":19,"v":15},{"r":20,"c":20,"v":5},{"r":20,"c":21,"v":15},{"r":20,"c":22,"v":25},{"r":20,"c":23,"v":25},{"r":20,"c":24,"v":-5},{"r":20,"c":25,"v":70},
{"r":21,"c":1,"v":130},{"r":21,"c":2,"v":-110},{"r":21,"c":3,"v":-185},{"r":21,"c":4,"v":-35},{"r":21,"c":5,"v":25},{"r":21,"c":6,"v":25},{"r":21,"c":7,"v":-110},{"r":21,"c":8,"v":40},{"r":21,"c":9,"v":145},{"r":21,"c":10,"v":48},{"r":21,"c":11,"v":-35},{"r":21,"c":12,"v":-60},{"r":21,"c":13,"v":240},{"r":21,"c":14,"v":190},{"r":21,"c":15,"v":-35},{"r":21,"c":16,"v":12},{"r":21,"c":17,"v":-25},{"r":21,"c":18,"v":-35},{"r":21,"c":19,"v":-110},{"r":21,"c":20,"v":270},{"r":21,"c":21,"v":5},{"r":21,"c":22,"v":62},{"r":21,"c":23,"v":-110},{"r":21,"c":24,"v":15},{"r":21,"c":25,"v":70},
{"r":22,"c":1,"v":240},{"r":22,"c":2,"v":-60},{"r":22,"c":3,"v":-20},{"r":22,"c":4,"v":25},{"r":22,"c":5,"v":-25},{"r":22,"c":6,"v":-35},{"r":22,"c":7,"v":-35},{"r":22,"c":8,"v":10},{"r":22,"c":9,"v":240},{"r":22,"c":10,"v":50},{"r":22,"c":11,"v":-35},{"r":22,"c":12,"v":225},{"r":22,"c":13,"v":105},{"r":22,"c":14,"v":30},{"r":22,"c":15,"v":-5},{"r":22,"c":16,"v":75},{"r":22,"c":17,"v":30},{"r":22,"c":18,"v":12},{"r":22,"c":19,"v":-15},{"r":22,"c":20,"v":-35},{"r":22,"c":21,"v":-110},{"r":22,"c":22,"v":5},{"r":22,"c":23,"v":-35},{"r":22,"c":24,"v":-25},{"r":22,"c":25,"v":48},
{"r":23,"c":1,"v":25},{"r":23,"c":2,"v":100},{"r":23,"c":3,"v":-35},{"r":23,"c":4,"v":-225},{"r":23,"c":5,"v":-110},{"r":23,"c":6,"v":5},{"r":23,"c":7,"v":48},{"r":23,"c":8,"v":-75},{"r":23,"c":9,"v":-35},{"r":23,"c":10,"v":-70},{"r":23,"c":11,"v":58},{"r":23,"c":12,"v":-75},{"r":23,"c":13,"v":25},{"r":23,"c":14,"v":55},{"r":23,"c":15,"v":-15},{"r":23,"c":16,"v":25},{"r":23,"c":17,"v":-35},{"r":23,"c":18,"v":48},{"r":23,"c":19,"v":-25},{"r":23,"c":20,"v":-5},{"r":23,"c":21,"v":-215},{"r":23,"c":22,"v":-60},{"r":23,"c":23,"v":5},{"r":23,"c":24,"v":25},{"r":23,"c":25,"v":-70},
{"r":24,"c":1,"v":62},{"r":24,"c":2,"v":225},{"r":24,"c":3,"v":62},{"r":24,"c":4,"v":48},{"r":24,"c":5,"v":-135},{"r":24,"c":6,"v":215},{"r":24,"c":7,"v":-120},{"r":24,"c":8,"v":25},{"r":24,"c":9,"v":-35},{"r":24,"c":10,"v":125},{"r":24,"c":11,"v":62},{"r":24,"c":12,"v":-20},{"r":24,"c":13,"v":190},{"r":24,"c":14,"v":55},{"r":24,"c":15,"v":-10},{"r":24,"c":16,"v":-5},{"r":24,"c":17,"v":85},{"r":24,"c":18,"v":190},{"r":24,"c":19,"v":-35},{"r":24,"c":20,"v":85},{"r":24,"c":21,"v":55},{"r":24,"c":22,"v":170},{"r":24,"c":23,"v":30},{"r":24,"c":24,"v":5},{"r":24,"c":25,"v":-25},
{"r":25,"c":1,"v":-35},{"r":25,"c":2,"v":-60},{"r":25,"c":3,"v":-60},{"r":25,"c":4,"v":-215},{"r":25,"c":5,"v":45},{"r":25,"c":6,"v":15},{"r":25,"c":7,"v":48},{"r":25,"c":8,"v":50},{"r":25,"c":9,"v":50},{"r":25,"c":10,"v":-5},{"r":25,"c":11,"v":-75},{"r":25,"c":12,"v":40},{"r":25,"c":13,"v":40},{"r":25,"c":14,"v":5},{"r":25,"c":15,"v":-150},{"r":25,"c":16,"v":5},{"r":25,"c":17,"v":120},{"r":25,"c":18,"v":5},{"r":25,"c":19,"v":-15},{"r":25,"c":20,"v":-75},{"r":25,"c":21,"v":-60},{"r":25,"c":22,"v":5},{"r":25,"c":23,"v":48},{"r":25,"c":24,"v":-185},{"r":25,"c":25,"v":5}
]
},
"hconcat":[
{
"width":400,"height":291,
"title":"Correlation Coefficient",
"data":{"name":"corr"},
"mark":{"type":"rect"},
"encoding":{
"x":{"field":"c","type":"ordinal","axis":{"values":[4,8,12,16,20,24],"labelAngle":270,"title":"Modes: fixti25 x/D = 6","titlePadding":9}},
"y":{"field":"r","type":"ordinal","axis":{"values":[4,8,12,16,20,24],"labelAngle":0,"title":"Modes: a4ti25 x/D = 6","titlePadding":13}},
"color":{"field":"v","type":"quantitative","scale":{"type":"linear","interpolate":"rgb","domain":[-1,-0.8,-0.6,-0.4,-0.2,0,0.2,0.4,0.6,0.8,1],"range":["#67001f","#b2182b","#d6604d","#f4a582","#fddbc7","#f7f7f7","#d1e5f0","#92c5de","#4393c3","#2166ac","#053061"]},
"legend":{"orient":"none","legendX":0,"legendY":396,"direction":"horizontal","gradientLength":400,"gradientThickness":20,"gradientStrokeWidth":0,"title":null,"values":[-1,-0.5,0,0.5,1],"format":".1f","labelAlign":"center","labelOffset":8}}
}
},
{
"width":400,"height":291,
"title":"Time Lag in s",
"data":{"name":"lag"},
"mark":{"type":"rect"},
"encoding":{
"x":{"field":"c","type":"ordinal","axis":{"values":[4,8,12,16,20,24],"labelAngle":270,"title":"Modes: fixti25 x/D = 6","titlePadding":9}},
"y":{"field":"r","type":"ordinal","axis":{"values":[4,8,12,16,20,24],"labelAngle":0,"title":null}},
"color":{"field":"v","type":"quantitative","scale":{"type":"linear","interpolate":"rgb","domain":[-348,-302.4,-226.8,-151.2,-75.6,0,75.6,151.2,226.8,302.4,378],"range":["#850a24","#b2182b","#d6604d","#f4a582","#fddbc7","#f7f7f7","#d1e5f0","#92c5de","#4393c3","#2166ac","#053061"]},
"legend":{"orient":"none","legendX":0,"legendY":396,"direction":"horizontal","gradientLength":400,"gradientThickness":20,"gradientStrokeWidth":0,"title":null,"values":[-200,0,200],"format":"d","labelAlign":"center","labelOffset":8}}
}
}
],
"resolve":{"scale":{"color":"independent"}}
}
